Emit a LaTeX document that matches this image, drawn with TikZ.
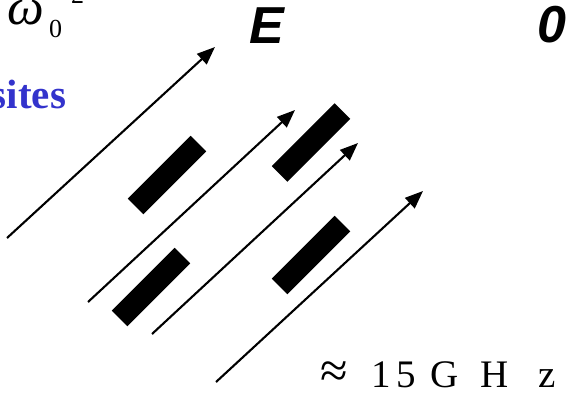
\documentclass[tikz,border=0pt]{standalone}
\usepackage{fontspec}
\setmainfont{Liberation Serif}
\newfontfamily\arialfont{Liberation Sans}
\usetikzlibrary{arrows.meta}
\definecolor{siteblue}{RGB}{51,51,204}
\tikzset{
  field/.style={line width=2.1pt,-{Triangle[length=18pt,width=14pt]}},
  bar/.style={fill=black,draw=none,minimum width=89pt,minimum height=22pt,inner sep=0pt,rotate=45},
  lbl/.style={inner sep=0pt,outer sep=0pt}
}
\begin{document}
\begin{tikzpicture}[x=1pt,y=-1pt]
\useasboundingbox (0,0) rectangle (567,397);
% labels
\node[lbl,anchor=base west] (om) at (7,24) {\fontsize{52}{52}\selectfont\itshape ω};
\node[lbl,anchor=base west] (sub) at (49,37) {\fontsize{26}{26}\selectfont 0};
\node[lbl,anchor=base west] (sup) at (71,3.5) {\fontsize{26}{26}\selectfont 2};
\node[lbl,anchor=base] (E) at (267,43) {\fontsize{52}{52}\selectfont\arialfont\bfseries\itshape E};
\node[lbl,anchor=base] (zero) at (552,42) {\fontsize{52}{52}\selectfont\arialfont\bfseries\itshape 0};
\node[lbl,anchor=base east,text=siteblue] (sites) at (66,108) {\fontsize{41}{41}\selectfont\bfseries sites};
\node[lbl,anchor=base west] (freq) at (320,387) {\fontsize{39}{39}\selectfont\rlap{\fontsize{50}{50}\selectfont ≈}\hspace{51pt}\rlap{1}\hspace{26pt}\rlap{5}\hspace{34pt}\rlap{G}\hspace{50pt}\rlap{H}\hspace{58pt}z};
% bars
\node[bar] (b1) at (167,175) {};
\node[bar] (b2) at (151,287) {};
\node[bar] (b3) at (311,142.5) {};
\node[bar] (b4) at (311,255) {};
% field arrows
\coordinate (t1) at (7,238);   \coordinate (h1) at (215,47);
\coordinate (t2) at (88,302);  \coordinate (h2) at (295,110);
\coordinate (t3) at (152,334); \coordinate (h3) at (358,143);
\coordinate (t4) at (216,382); \coordinate (h4) at (423,191);
\draw[field] (t1) -- (h1);
\draw[field] (t2) -- (h2);
\draw[field] (t3) -- (h3);
\draw[field] (t4) -- (h4);
\end{tikzpicture}
\end{document}
